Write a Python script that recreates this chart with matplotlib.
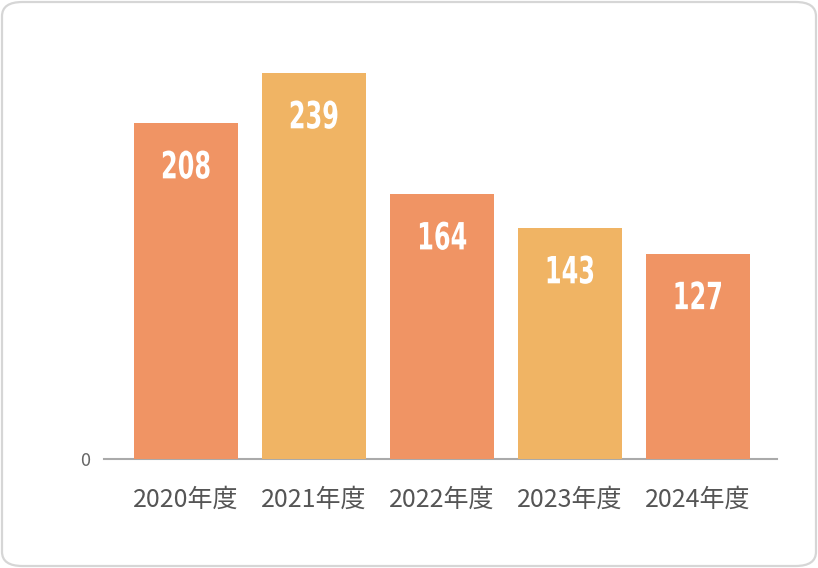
import matplotlib.pyplot as plt
from matplotlib.patches import FancyBboxPatch
from matplotlib.patheffects import AbstractPathEffect
from matplotlib.transforms import Affine2D

plt.rcParams['font.family'] = ['Noto Sans CJK JP', 'DejaVu Sans']

# data
years = ["2020年度", "2021年度", "2022年度", "2023年度", "2024年度"]
values = [208, 239, 164, 143, 127]
colors = ["#F09464", "#F0B464", "#F09464", "#F0B464", "#F09464"]


class Narrow(AbstractPathEffect):
    """Squeeze text horizontally around its centre (no condensed font installed)."""

    def __init__(self, sx=0.65):
        super().__init__()
        self.sx = sx

    def draw_path(self, renderer, gc, tpath, affine, rgbFace=None):
        ext = tpath.get_extents(affine)
        cx = (ext.x0 + ext.x1) / 2
        squeeze = Affine2D().translate(-cx, 0).scale(self.sx, 1).translate(cx, 0)
        renderer.draw_path(gc, tpath, affine + squeeze, rgbFace)


W, H = 818, 568
fig = plt.figure(figsize=(W / 100, H / 100), dpi=100, facecolor="white")

# rounded frame
frame = FancyBboxPatch((2 / W, 2 / H), 1 - 4 / W, 1 - 4 / H,
                       boxstyle="round,pad=0,rounding_size=0.025",
                       transform=fig.transFigure, facecolor="none",
                       edgecolor="#d6d6d6", linewidth=1.6)
fig.patches.append(frame)

ax = fig.add_axes([104 / W, (H - 459) / H, (777 - 104) / W, (459 - 40) / H])
ax.set_facecolor("none")

x = range(len(years))
bars = ax.bar(x, values, width=0.8125, color=colors, zorder=2)

for xi, v in zip(x, values):
    ax.text(xi, v - 28, str(v), ha="center", va="center", color="white",
            fontsize=27, fontweight="bold", family=["DejaVu Sans"], zorder=3,
            path_effects=[Narrow(0.64)])

ax.set_xlim(-0.64, 4.62)
ax.set_ylim(0, 259.5)
ax.set_yticks([0])
ax.set_yticklabels(["0"], fontsize=13, color="#666666")
ax.set_xticks(list(x))
ax.set_xticklabels(years, fontsize=18, color="#555555")
ax.tick_params(axis="both", length=0)
ax.tick_params(axis="x", pad=20)
ax.tick_params(axis="y", pad=10)

for s in ["top", "right", "left"]:
    ax.spines[s].set_visible(False)
ax.spines["bottom"].set_color("#aaaaaa")
ax.spines["bottom"].set_linewidth(1.5)
ax.spines["bottom"].set_zorder(1)

fig.savefig("out.png", dpi=100)
